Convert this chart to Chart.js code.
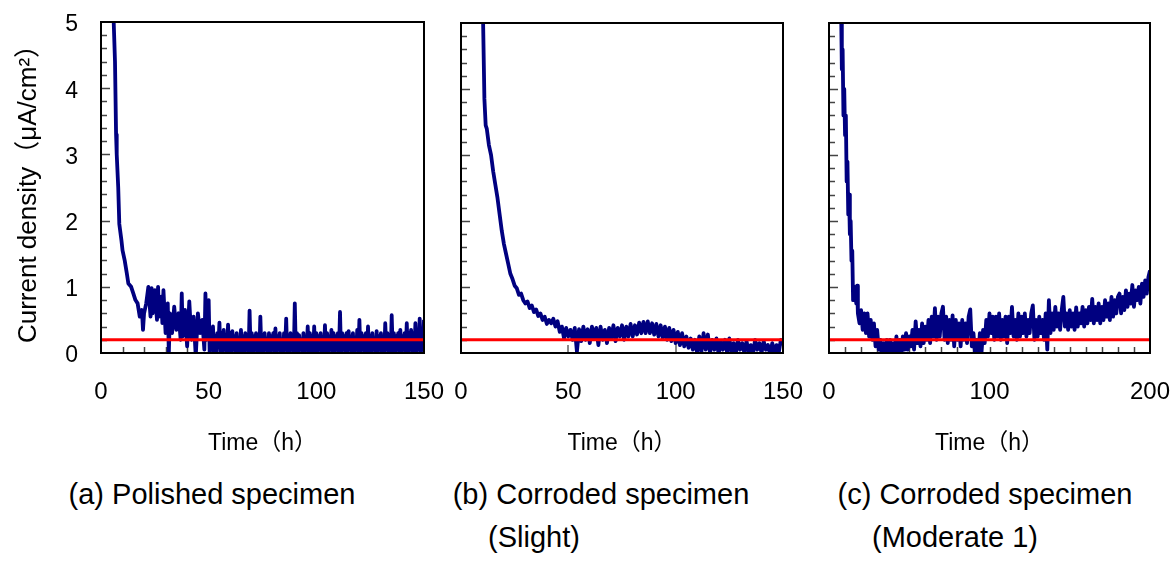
<!DOCTYPE html>
<html>
<head>
<meta charset="utf-8">
<script src="https://cdn.jsdelivr.net/npm/chart.js@4.4.1/dist/chart.umd.min.js"></script>
<style>
  body { margin: 0; background: #fff; }
  #wrap { position: relative; width: 1175px; height: 562px; overflow: hidden; background: #fff; }
  #wrap canvas { position: absolute; top: 0; }
  .cap { position: absolute; font-family: "Liberation Sans", Arial, sans-serif; font-size: 29px;
         line-height: 29px; white-space: nowrap; transform: translateX(-50%); color: #000; }
</style>
</head>
<body>
<div id="wrap">
  <canvas id="chartA" width="450" height="470" style="left:0px"></canvas>
  <canvas id="chartB" width="370" height="470" style="left:440px"></canvas>
  <canvas id="chartC" width="365" height="470" style="left:810px"></canvas>
  <div class="cap" style="left:212px;top:480px">(a) Polished specimen</div>
  <div class="cap" style="left:601px;top:480px">(b) Corroded specimen</div>
  <div class="cap" style="left:534px;top:523px">(Slight)</div>
  <div class="cap" style="left:985px;top:480px">(c) Corroded specimen</div>
  <div class="cap" style="left:955px;top:523px">(Moderate 1)</div>
</div>
<script>
// (a) polished specimen, time in h, current density in uA/cm2
const timeA = [
  5.6, 6.5, 7, 7.3, 8, 8.5, 9.5, 10, 11, 12,
  12.7, 14, 15, 16, 17, 18, 19, 19.5, 20, 21,
  22, 23, 23.5, 24, 25, 26, 26.5, 27, 28, 28.5,
  29, 30, 31, 31.5, 32, 33, 34, 35, 36, 37,
  37.5, 38, 39, 40, 41, 42, 43, 44, 45, 46,
  47, 48, 48.5, 49,
  50, 50.5, 51, 51.5, 52, 52.5, 53, 53.5, 54, 54.5,
  55, 55.5, 56, 56.5, 57, 57.5, 58, 58.5, 59, 59.5,
  60, 60.5, 61, 61.5, 62, 62.5, 63, 63.5, 64, 64.5,
  65, 65.5, 66, 66.5, 67, 67.5, 68, 68.5, 69, 69.5,
  70, 70.5, 71, 71.5, 72, 72.5, 73, 73.5, 74, 74.5,
  75, 75.5, 76, 76.5, 77, 77.5, 78, 78.5, 79, 79.5,
  80, 80.5, 81, 81.5, 82, 82.5, 83, 83.5, 84, 84.5,
  85, 85.5, 86, 86.5, 87, 87.5, 88, 88.5, 89, 89.5,
  90, 90.5, 91, 91.5, 92, 92.5, 93, 93.5, 94, 94.5,
  95, 95.5, 96, 96.5, 97, 97.5, 98, 98.5, 99, 99.5,
  100, 100.5, 101, 101.5, 102, 102.5, 103, 103.5, 104, 104.5,
  105, 105.5, 106, 106.5, 107, 107.5, 108, 108.5, 109, 109.5,
  110, 110.5, 111, 111.5, 112, 112.5, 113, 113.5, 114, 114.5,
  115, 115.5, 116, 116.5, 117, 117.5, 118, 118.5, 119, 119.5,
  120, 120.5, 121, 121.5, 122, 122.5, 123, 123.5, 124, 124.5,
  125, 125.5, 126, 126.5, 127, 127.5, 128, 128.5, 129, 129.5,
  130, 130.5, 131, 131.5, 132, 132.5, 133, 133.5, 134, 134.5,
  135, 135.5, 136, 136.5, 137, 137.5, 138, 138.5, 139, 139.5,
  140, 140.5, 141, 141.5, 142, 142.5, 143, 143.5, 144, 144.5,
  145, 145.5, 146, 146.5, 147, 147.5, 148, 148.5, 149, 149.5,
  150
];
const currentA = [
  5.3, 4.4, 3.3, 3.0, 2.5, 1.95, 1.7, 1.55, 1.4, 1.2,
  1.05, 1.0, 0.9, 0.8, 0.75, 0.55, 0.65, 0.35, 0.6, 0.75,
  1.0, 0.55, 0.98, 0.6, 0.95, 0.5, 1.0, 0.55, 0.85, 0.45,
  0.95, 0.3, 0.75, 0.0, 0.6, 0.3, 0.7, 0.35, 0.6, 0.2,
  0.9, 0.25, 0.65, 0.1, 0.78, 0.2, 0.55, -0.05, 0.6, 0.3,
  0.5, 0.05, 0.9, 0.2,
  0.8, -0.05, 0.3, 0.05, 0.4, -0.05, 0.25, 0.0, 0.3, 0.1,
  0.46, -0.05, 0.3, 0.0, 0.35, 0.05, 0.25, -0.05, 0.43, 0.0,
  0.3, -0.05, 0.33, 0.05, 0.25, 0.0, 0.3, -0.05, 0.22, 0.05,
  0.35, -0.05, 0.25, 0.0, 0.3, 0.05, 0.2, -0.05, 0.64, 0.0,
  0.3, -0.05, 0.25, 0.05, 0.3, 0.0, 0.2, -0.05, 0.55, 0.0,
  0.25, -0.05, 0.3, 0.05, 0.2, 0.0, 0.3, -0.05, 0.25, 0.05,
  0.3, 0.0, 0.37, -0.05, 0.25, 0.05, 0.3, 0.0, 0.2, -0.05,
  0.3, 0.05, 0.52, -0.05, 0.25, 0.0, 0.3, 0.05, 0.2, -0.05,
  0.75, 0.0, 0.3, -0.05, 0.27, 0.05, 0.2, 0.0, 0.3, -0.05,
  0.25, 0.05, 0.4, -0.05, 0.3, 0.0, 0.25, -0.05, 0.4, 0.0,
  0.3, -0.05, 0.25, 0.05, 0.3, 0.0, 0.2, -0.05, 0.42, 0.0,
  0.3, -0.05, 0.25, 0.05, 0.35, 0.0, 0.3, -0.05, 0.25, 0.05,
  0.3, 0.0, 0.62, -0.05, 0.3, 0.05, 0.25, 0.0, 0.3, -0.05,
  0.33, 0.05, 0.25, 0.0, 0.3, -0.05, 0.2, 0.05, 0.35, 0.0,
  0.5, -0.05, 0.3, 0.05, 0.25, 0.0, 0.3, -0.05, 0.4, 0.0,
  0.25, -0.05, 0.3, 0.05, 0.2, 0.0, 0.33, -0.05, 0.25, 0.05,
  0.3, 0.0, 0.25, -0.05, 0.45, 0.05, 0.3, 0.0, 0.25, -0.05,
  0.57, 0.0, 0.3, -0.05, 0.25, 0.05, 0.3, 0.0, 0.35, -0.05,
  0.25, 0.05, 0.3, 0.0, 0.45, -0.05, 0.3, 0.05, 0.35, 0.0,
  0.3, -0.05, 0.45, 0.0, 0.3, 0.05, 0.52, -0.05, 0.35, 0.05,
  0.5
];

// (b) corroded specimen, slight
const timeB = [
  10.2, 10.9, 11.5, 12, 13, 14, 15, 16, 17, 18,
  19, 20, 21, 22, 23, 24, 25, 26, 27, 28,
  29, 30, 31, 32, 33, 34, 35, 36, 37, 38,
  39, 40, 41, 42, 43, 44, 45, 46, 47, 48,
  49, 50, 51, 52, 53, 54, 55, 56, 57, 58,
  59, 60, 61, 62, 63, 64, 65, 66, 67, 68,
  69, 70, 71, 72, 73, 74, 75, 76, 77, 78,
  79, 80, 81, 82, 83, 84, 85, 86, 87, 88,
  89, 90, 91, 92, 93, 94, 95, 96, 97, 98,
  99, 100, 101, 102, 103, 104, 105, 106, 107, 108,
  109, 110, 111, 112, 113, 114, 115, 116, 117, 118,
  119, 120, 121, 122, 123, 124, 125, 126, 127, 128,
  129, 130, 131, 132, 133, 134, 135, 136, 137, 138,
  139, 140, 141, 142, 143, 144, 145, 146, 147, 148,
  149, 150
];
const currentB = [
  5.2, 3.85, 3.45, 3.4, 3.15, 3.0, 2.75, 2.55, 2.35, 2.1,
  1.85, 1.65, 1.5, 1.35, 1.2, 1.12, 1.02, 0.98, 0.88, 0.9,
  0.8, 0.75, 0.78, 0.68, 0.72, 0.62, 0.66, 0.56, 0.6, 0.5,
  0.55, 0.44, 0.5, 0.45, 0.52, 0.4, 0.48, 0.32, 0.4, 0.22,
  0.38, 0.25, 0.35, 0.2, 0.38, 0.02, 0.36, 0.18, 0.4, 0.2,
  0.36, 0.15, 0.4, 0.22, 0.38, 0.12, 0.4, 0.2, 0.35, 0.15,
  0.38, 0.22, 0.42, 0.18, 0.38, 0.25, 0.42, 0.2, 0.4, 0.25,
  0.44, 0.25, 0.42, 0.28, 0.46, 0.3, 0.47, 0.3, 0.48, 0.3,
  0.45, 0.28, 0.44, 0.25, 0.42, 0.22, 0.4, 0.2, 0.38, 0.18,
  0.35, 0.15, 0.32, 0.12, 0.3, 0.1, 0.25, 0.08, 0.22, 0.05,
  0.2, 0.0, 0.25, 0.02, 0.3, 0.05, 0.28, 0.0, 0.2, 0.05,
  0.22, -0.02, 0.18, 0.05, 0.2, 0.0, 0.22, 0.02, 0.15, -0.02,
  0.2, 0.05, 0.15, 0.0, 0.18, 0.02, 0.12, -0.02, 0.2, 0.05,
  0.15, 0.0, 0.18, 0.05, 0.12, -0.02, 0.15, 0.02, 0.12, 0.0,
  0.2, 0.12
];

// (c) corroded specimen, moderate 1
const timeC = [
  7.5, 8, 8.5, 9, 9.5, 10, 10.5, 11, 11.5, 12,
  12.5, 13, 13.5, 14, 14.5, 15, 16, 17, 17.5, 18,
  19, 20, 21, 22, 23, 24, 25, 26, 27, 28,
  29, 30, 31, 32, 33, 34, 35, 36, 37, 38,
  39, 40, 41, 42, 43, 44, 45, 46, 47, 48,
  49, 50, 51, 52, 53, 54, 55, 56, 57, 58,
  59, 60, 61, 62, 63, 64, 65, 66, 67, 68,
  69, 70, 71, 72, 73, 74, 75, 76, 77, 78,
  79, 80, 81, 82, 83, 84, 85, 86, 87, 88,
  89, 90, 91, 92, 93, 94, 95, 96, 97, 98,
  99, 100, 101, 102, 103, 104, 105, 106, 107, 108,
  109, 110, 111, 112, 113, 114, 115, 116, 117, 118,
  119, 120, 121, 122, 123, 124, 125, 126, 127, 128,
  129, 130, 131, 132, 133, 134, 135, 136, 137, 138,
  139, 140, 141, 142, 143, 144, 145, 146, 147, 148,
  149, 150, 151, 152, 153, 154, 155, 156, 157, 158,
  159, 160, 161, 162, 163, 164, 165, 166, 167, 168,
  169, 170, 171, 172, 173, 174, 175, 176, 177, 178,
  179, 180, 181, 182, 183, 184, 185, 186, 187, 188,
  189, 190, 191, 192, 193, 194, 195, 196, 197, 198,
  199, 200
];
const currentC = [
  5.3, 4.3, 4.6, 3.6, 4.0, 3.3, 3.6, 2.6, 2.9, 2.1,
  2.4, 1.8, 2.0, 1.4, 1.55, 0.8, 1.0, 0.75, 1.02, 0.6,
  0.45, 0.65, 0.35, 0.6, 0.3, 0.6, 0.25, 0.5, 0.2, 0.45,
  0.1, 0.35, 0.05, 0.2, -0.05, 0.15, -0.05, 0.2, -0.05, 0.2,
  0.0, 0.15, -0.05, 0.25, 0.0, 0.2, -0.05, 0.25, 0.05, 0.3,
  0.05, 0.25, 0.1, 0.35, 0.05, 0.48, 0.15, 0.35, 0.1, 0.45,
  0.15, 0.4, 0.2, 0.5, 0.15, 0.55, 0.25, 0.68, 0.2, 0.55,
  0.25, 0.6, 0.7, 0.2, 0.55, 0.15, 0.5, 0.2, 0.57, 0.1,
  0.5, 0.2, 0.45, 0.1, 0.5, 0.2, 0.45, 0.15, 0.55, 0.66,
  0.1, 0.3, 0.0, 0.2, -0.05, 0.3, 0.0, 0.35, 0.15, 0.5,
  0.25, 0.6, 0.3, 0.55, 0.2, 0.55, 0.25, 0.6, 0.2, 0.5,
  0.25, 0.55, 0.15, 0.55, 0.3, 0.7, 0.25, 0.5, 0.2, 0.6,
  0.25, 0.55, 0.3, 0.6, 0.25, 0.5, 0.3, 0.6, 0.72, 0.2,
  0.5, 0.25, 0.55, 0.3, 0.5, 0.2, 0.6, 0.05, 0.8, 0.3,
  0.6, 0.35, 0.7, 0.4, 0.6, 0.35, 0.65, 0.85, 0.4, 0.6,
  0.35, 0.65, 0.4, 0.6, 0.35, 0.69, 0.4, 0.6, 0.45, 0.7,
  0.4, 0.65, 0.45, 0.7, 0.5, 0.82, 0.45, 0.7, 0.5, 0.75,
  0.45, 0.7, 0.5, 0.8, 0.55, 0.75, 0.5, 0.85, 0.55, 0.8,
  0.6, 0.85, 0.9, 0.6, 0.85, 0.65, 0.95, 0.7, 0.9, 0.75,
  1.03, 0.7, 0.95, 0.8, 1.0, 0.75, 1.05, 0.85, 1.1, 0.9,
  1.15, 1.25
];

// red reference level
const referenceLevel = 0.2;

// tick labels
const yLabels = [0, 1, 2, 3, 4, 5];
const xLabels150 = [0, 50, 100, 150];
const xLabels200 = [0, 100, 200];

Chart.defaults.font.family = "'Liberation Sans', Arial, sans-serif";
Chart.defaults.color = "#000";

// frame + inward tick marks
const framePlugin = {
  id: "frame",
  beforeDatasetsDraw(chart, args, opts) {
    const { ctx, chartArea: a, scales: { x, y } } = chart;
    ctx.save();
    ctx.strokeStyle = "#444";
    ctx.lineWidth = 1.5;
    ctx.beginPath();
    for (let i = 1; i < 25; i++) {
      const py = Math.round(y.getPixelForValue(i * 0.2)) + 0.5;
      const len = i % 5 === 0 ? 9 : 6;
      ctx.moveTo(a.left, py);
      ctx.lineTo(a.left + len, py);
    }
    if (opts.xMinor) {
      for (let v = opts.xMinor; v < x.max; v += opts.xMinor) {
        const px = Math.round(x.getPixelForValue(v)) + 0.5;
        ctx.moveTo(px, a.bottom);
        ctx.lineTo(px, a.bottom - 6);
      }
    }
    ctx.stroke();
    if (opts.xMarks) {
      ctx.strokeStyle = "#888";
      ctx.lineWidth = 2;
      ctx.beginPath();
      opts.xMarks.forEach(v => {
        const px = Math.round(x.getPixelForValue(v));
        ctx.moveTo(px, a.bottom);
        ctx.lineTo(px, a.bottom - 8);
      });
      ctx.stroke();
    }
    ctx.restore();
  },
  afterDatasetsDraw(chart) {
    const { ctx, chartArea: a } = chart;
    ctx.save();
    ctx.strokeStyle = "#000";
    ctx.lineWidth = 2;
    ctx.strokeRect(a.left, a.top, a.right - a.left, a.bottom - a.top);
    ctx.restore();
  }
};

function makeChart(id, time, current, xMax, xLabels, pad, frameOpts, showY) {
  const ctx = document.getElementById(id).getContext("2d");
  return new Chart(ctx, {
    type: "line",
    data: {
      datasets: [
        {
          // red level line on top
          data: [{ x: 0, y: referenceLevel }, { x: xMax, y: referenceLevel }],
          borderColor: "#ff0000",
          borderWidth: 3,
          pointRadius: 0,
          clip: 0,
        },
        {
          data: time.map((t, i) => ({ x: t, y: current[i] })),
          borderColor: "#000080",
          borderWidth: 3.8,
          borderJoinStyle: "round",
          pointRadius: 0,
          tension: 0,
          clip: 0,
        },
      ],
    },
    options: {
      responsive: false,
      animation: false,
      events: [],
      layout: { padding: pad },
      plugins: { legend: { display: false }, tooltip: { enabled: false }, frame: frameOpts },
      scales: {
        x: {
          type: "linear",
          min: 0,
          max: xMax,
          afterBuildTicks: s => { s.ticks = xLabels.map(v => ({ value: v })); },
          afterFit: s => { s.height = 117; s.paddingLeft = 0; s.paddingRight = 0; },
          grid: { display: false, drawTicks: false },
          border: { display: false },
          ticks: { autoSkip: false, maxRotation: 0, padding: 25, font: { size: 24 } },
          title: {
            display: true,
            text: "Time（h）",
            padding: { top: 0, bottom: 13 },
            font: { family: "'Liberation Sans', 'Noto Sans CJK JP', sans-serif", size: 23 },
          },
        },
        y: {
          display: showY,
          min: 0,
          max: 5,
          afterBuildTicks: s => { s.ticks = yLabels.map(v => ({ value: v })); },
          afterFit: s => { s.width = showY ? 101 : 0; s.paddingTop = 0; s.paddingBottom = 0; },
          grid: { display: false, drawTicks: false },
          border: { display: false },
          ticks: { padding: 23, labelOffset: 3, font: { size: 23 } },
          title: {
            display: true,
            text: "Current density（μA/cm²）",
            padding: { top: 13, bottom: 0 },
            font: { family: "'Liberation Sans', Arial, 'Noto Sans CJK JP', sans-serif", size: 26 },
          },
        },
      },
    },
    plugins: [framePlugin],
  });
}

makeChart("chartA", timeA, currentA, 150, xLabels150,
  { top: 22, right: 26, bottom: 0, left: 0 }, { xMinor: 10 }, true);
makeChart("chartB", timeB, currentB, 150, xLabels150,
  { top: 23, right: 27, bottom: 0, left: 21 }, { xMarks: [50, 100] }, false);
makeChart("chartC", timeC, currentC, 200, xLabels200,
  { top: 23, right: 25, bottom: 0, left: 19 }, { xMinor: 10 }, false);
</script>
</body>
</html>
